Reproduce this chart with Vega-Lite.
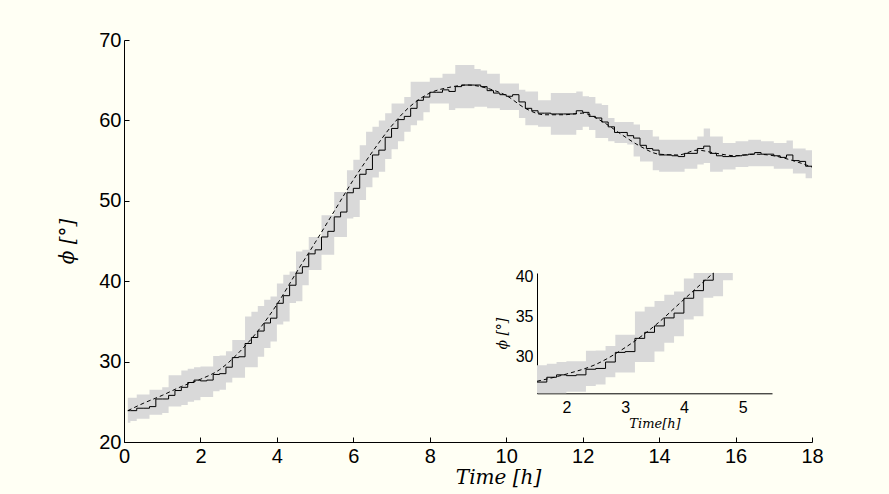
{
  "$schema": "https://vega.github.io/schema/vega-lite/v6.json",
  "width": 688,
  "height": 402,
  "autosize": {"type": "none"},
  "padding": {"left": 124, "top": 40, "right": 77, "bottom": 52},
  "background": "#fffff4",
  "config": {
    "view": {"stroke": null},
    "axis": {"grid": false, "domainColor": "#000000", "tickColor": "#000000", "labelColor": "#000000", "titleColor": "#000000", "labelFont": "Liberation Sans", "titleFont": "DejaVu Serif", "titleFontStyle": "italic", "titleFontWeight": "normal"}
  },
  "datasets": {
    "steps": [
      {"t":0.1,"v":23.9,"lo":22.4,"hi":25.5},
      {"t":0.167,"v":23.9,"lo":22.6,"hi":25.5},
      {"t":0.333,"v":24.2,"lo":22.9,"hi":25.9},
      {"t":0.5,"v":24.2,"lo":22.9,"hi":25.9},
      {"t":0.667,"v":24.4,"lo":23.4,"hi":26.5},
      {"t":0.833,"v":25.35,"lo":23.4,"hi":26.5},
      {"t":1.0,"v":25.35,"lo":23.6,"hi":26.8},
      {"t":1.167,"v":25.8,"lo":24.4,"hi":28.3},
      {"t":1.333,"v":26.4,"lo":24.4,"hi":28.3},
      {"t":1.5,"v":26.8,"lo":24.6,"hi":28.9},
      {"t":1.667,"v":27.4,"lo":25.0,"hi":29.1},
      {"t":1.833,"v":27.7,"lo":25.2,"hi":29.3},
      {"t":2.0,"v":27.6,"lo":25.6,"hi":29.4},
      {"t":2.167,"v":27.7,"lo":25.6,"hi":29.4},
      {"t":2.333,"v":28.4,"lo":26.3,"hi":30.7},
      {"t":2.5,"v":28.5,"lo":26.5,"hi":30.75},
      {"t":2.667,"v":29.3,"lo":27.4,"hi":31.3},
      {"t":2.833,"v":30.5,"lo":28.0,"hi":32.7},
      {"t":3.0,"v":30.6,"lo":28.0,"hi":32.7},
      {"t":3.167,"v":32.25,"lo":29.3,"hi":35.6},
      {"t":3.333,"v":33.0,"lo":29.3,"hi":36.2},
      {"t":3.5,"v":33.8,"lo":30.6,"hi":36.9},
      {"t":3.667,"v":34.8,"lo":31.7,"hi":37.7},
      {"t":3.833,"v":35.4,"lo":32.5,"hi":38.1},
      {"t":4.0,"v":37.25,"lo":34.6,"hi":39.7},
      {"t":4.167,"v":38.2,"lo":35.0,"hi":40.8},
      {"t":4.333,"v":39.5,"lo":37.3,"hi":41.2},
      {"t":4.5,"v":41.0,"lo":37.5,"hi":43.7},
      {"t":4.667,"v":41.8,"lo":39.5,"hi":43.9},
      {"t":4.833,"v":43.4,"lo":41.4,"hi":45.5},
      {"t":5.0,"v":43.9,"lo":41.4,"hi":45.5},
      {"t":5.167,"v":45.5,"lo":43.3,"hi":48.2},
      {"t":5.333,"v":46.2,"lo":43.3,"hi":48.2},
      {"t":5.5,"v":48.0,"lo":45.5,"hi":51.1},
      {"t":5.667,"v":48.6,"lo":45.5,"hi":51.1},
      {"t":5.833,"v":51.0,"lo":47.8,"hi":53.8},
      {"t":6.0,"v":51.55,"lo":48.0,"hi":55.1},
      {"t":6.167,"v":53.3,"lo":50.1,"hi":56.9},
      {"t":6.333,"v":53.9,"lo":51.7,"hi":58.6},
      {"t":6.5,"v":55.7,"lo":52.9,"hi":59.2},
      {"t":6.667,"v":56.3,"lo":53.6,"hi":60.0},
      {"t":6.833,"v":57.9,"lo":55.2,"hi":60.9},
      {"t":7.0,"v":59.0,"lo":56.4,"hi":62.1},
      {"t":7.167,"v":60.1,"lo":57.4,"hi":62.1},
      {"t":7.333,"v":60.5,"lo":58.6,"hi":62.9},
      {"t":7.5,"v":61.5,"lo":59.4,"hi":64.8},
      {"t":7.667,"v":62.5,"lo":60.0,"hi":64.8},
      {"t":7.833,"v":62.9,"lo":61.0,"hi":64.8},
      {"t":8.0,"v":63.5,"lo":62.1,"hi":65.3},
      {"t":8.167,"v":63.5,"lo":62.1,"hi":65.3},
      {"t":8.333,"v":63.8,"lo":62.1,"hi":65.8},
      {"t":8.5,"v":63.6,"lo":61.3,"hi":65.8},
      {"t":8.667,"v":64.2,"lo":61.5,"hi":66.9},
      {"t":8.833,"v":64.4,"lo":61.5,"hi":66.9},
      {"t":9.0,"v":64.4,"lo":61.5,"hi":66.9},
      {"t":9.167,"v":64.4,"lo":61.7,"hi":66.4},
      {"t":9.333,"v":64.2,"lo":61.7,"hi":66.2},
      {"t":9.5,"v":63.7,"lo":61.5,"hi":65.8},
      {"t":9.667,"v":63.4,"lo":61.5,"hi":65.8},
      {"t":9.833,"v":63.2,"lo":61.3,"hi":64.6},
      {"t":10.0,"v":63.0,"lo":61.3,"hi":64.6},
      {"t":10.167,"v":63.2,"lo":61.3,"hi":64.6},
      {"t":10.333,"v":62.3,"lo":60.3,"hi":63.8},
      {"t":10.5,"v":61.5,"lo":59.4,"hi":63.6},
      {"t":10.667,"v":61.2,"lo":59.4,"hi":63.6},
      {"t":10.833,"v":60.9,"lo":59.2,"hi":62.5},
      {"t":11.0,"v":60.9,"lo":59.2,"hi":62.5},
      {"t":11.167,"v":60.8,"lo":58.2,"hi":63.4},
      {"t":11.333,"v":60.8,"lo":58.2,"hi":63.4},
      {"t":11.5,"v":60.8,"lo":58.2,"hi":63.4},
      {"t":11.667,"v":60.8,"lo":58.2,"hi":63.4},
      {"t":11.833,"v":61.2,"lo":58.8,"hi":63.6},
      {"t":12.0,"v":61.0,"lo":59.2,"hi":63.0},
      {"t":12.167,"v":60.5,"lo":58.8,"hi":62.9},
      {"t":12.333,"v":60.3,"lo":57.8,"hi":62.1},
      {"t":12.5,"v":59.8,"lo":57.8,"hi":61.9},
      {"t":12.667,"v":59.2,"lo":57.4,"hi":60.3},
      {"t":12.833,"v":58.5,"lo":57.2,"hi":59.8},
      {"t":13.0,"v":58.5,"lo":57.2,"hi":59.8},
      {"t":13.167,"v":58.1,"lo":57.0,"hi":59.8},
      {"t":13.333,"v":57.8,"lo":55.5,"hi":59.5},
      {"t":13.5,"v":56.9,"lo":54.9,"hi":58.8},
      {"t":13.667,"v":56.5,"lo":54.9,"hi":58.8},
      {"t":13.833,"v":56.3,"lo":53.8,"hi":58.0},
      {"t":14.0,"v":55.7,"lo":53.6,"hi":57.6},
      {"t":14.167,"v":55.7,"lo":53.6,"hi":57.6},
      {"t":14.333,"v":55.6,"lo":53.6,"hi":57.6},
      {"t":14.5,"v":55.5,"lo":53.6,"hi":57.6},
      {"t":14.667,"v":55.9,"lo":54.0,"hi":57.6},
      {"t":14.833,"v":55.9,"lo":54.0,"hi":57.6},
      {"t":15.0,"v":56.5,"lo":54.5,"hi":58.0},
      {"t":15.167,"v":56.8,"lo":54.7,"hi":59.0},
      {"t":15.333,"v":55.9,"lo":53.6,"hi":58.0},
      {"t":15.5,"v":55.6,"lo":53.6,"hi":58.0},
      {"t":15.667,"v":55.5,"lo":53.9,"hi":57.2},
      {"t":15.833,"v":55.5,"lo":53.9,"hi":57.2},
      {"t":16.0,"v":55.6,"lo":54.2,"hi":57.4},
      {"t":16.167,"v":55.7,"lo":54.2,"hi":57.4},
      {"t":16.333,"v":55.8,"lo":54.3,"hi":57.6},
      {"t":16.5,"v":56.0,"lo":54.3,"hi":57.6},
      {"t":16.667,"v":55.8,"lo":54.3,"hi":57.4},
      {"t":16.833,"v":55.8,"lo":54.3,"hi":57.4},
      {"t":17.0,"v":55.6,"lo":54.0,"hi":57.2},
      {"t":17.167,"v":55.4,"lo":54.0,"hi":57.2},
      {"t":17.333,"v":55.7,"lo":54.0,"hi":57.5},
      {"t":17.5,"v":55.0,"lo":53.4,"hi":56.5},
      {"t":17.667,"v":54.9,"lo":53.4,"hi":56.5},
      {"t":17.833,"v":54.3,"lo":52.8,"hi":56.3},
      {"t":18.0,"v":54.3,"lo":52.8,"hi":56.3}
    ],
    "smooth": [
      {"t":0.1,"s":23.9},{"t":0.5,"s":24.8},{"t":1.0,"s":25.8},{"t":1.5,"s":26.9},
      {"t":2.0,"s":27.8},{"t":2.5,"s":29.0},{"t":3.0,"s":31.1},{"t":3.5,"s":33.8},
      {"t":4.0,"s":37.1},{"t":4.5,"s":41.0},{"t":5.0,"s":44.8},{"t":5.5,"s":48.7},
      {"t":6.0,"s":52.6},{"t":6.5,"s":56.1},{"t":7.0,"s":59.3},{"t":7.5,"s":61.8},
      {"t":8.0,"s":63.4},{"t":8.5,"s":64.1},{"t":9.0,"s":64.4},{"t":9.5,"s":64.0},
      {"t":10.0,"s":63.1},{"t":10.5,"s":61.5},{"t":11.0,"s":60.7},{"t":11.5,"s":60.7},
      {"t":12.0,"s":60.9},{"t":12.5,"s":59.9},{"t":13.0,"s":58.3},{"t":13.5,"s":56.8},
      {"t":14.0,"s":55.8},{"t":14.5,"s":55.7},{"t":15.0,"s":56.3},{"t":15.5,"s":55.9},
      {"t":16.0,"s":55.6},{"t":16.5,"s":55.8},{"t":17.0,"s":55.6},{"t":17.5,"s":55.0},
      {"t":18.0,"s":54.2}
    ]
  },
  "layer": [
    {
      "layer": [
        {
          "data": {"name": "steps"},
          "mark": {"type": "area", "interpolate": "step-after", "color": "#d9d9d9"},
          "encoding": {
            "x": {"field": "t", "type": "quantitative",
                  "scale": {"domain": [0, 18], "nice": false, "zero": false},
                  "axis": {"orient": "bottom", "values": [0,2,4,6,8,10,12,14,16,18], "format": "d", "labelFlush": false, "labelOverlap": false, "tickSize": -5, "labelPadding": 9, "labelFontSize": 20, "title": "Time [h]", "titleFontSize": 20, "titlePadding": 1, "titleX": 374}},
            "y": {"field": "lo", "type": "quantitative",
                  "scale": {"domain": [20, 70], "nice": false, "zero": false},
                  "axis": {"orient": "left", "values": [20,30,40,50,60,70], "format": "d", "labelFlush": false, "labelOverlap": false, "tickSize": -5, "labelPadding": 8, "labelFontSize": 20, "title": "ϕ [°]", "titleFontSize": 20, "titlePadding": 21}},
            "y2": {"field": "hi"}
          }
        },
        {
          "data": {"name": "steps"},
          "mark": {"type": "line", "interpolate": "step-after", "color": "#000000", "strokeWidth": 1},
          "encoding": {
            "x": {"field": "t", "type": "quantitative"},
            "y": {"field": "v", "type": "quantitative"}
          }
        },
        {
          "data": {"name": "smooth"},
          "mark": {"type": "line", "interpolate": "monotone", "color": "#000000", "strokeWidth": 1, "strokeDash": [4, 3]},
          "encoding": {
            "x": {"field": "t", "type": "quantitative"},
            "y": {"field": "s", "type": "quantitative"}
          }
        }
      ]
    },
    {
      "layer": [
        {
          "data": {"name": "steps"},
          "transform": [{"filter": "datum.t >= 1.5 && datum.t <= 4.84"}],
          "mark": {"type": "area", "interpolate": "step-after", "color": "#d9d9d9"},
          "encoding": {
            "x": {"field": "t", "type": "quantitative",
                  "scale": {"domain": [1.5, 5.5], "range": [413, 648], "nice": false, "zero": false, "clamp": true},
                  "axis": {"orient": "bottom", "offset": -48.7, "values": [2,3,4,5], "format": "d", "ticks": false, "labelFlush": false, "labelPadding": 6, "labelFontSize": 16, "title": "Time[h]", "titleFontSize": 13, "titlePadding": 2}},
            "y": {"field": "lo", "type": "quantitative",
                  "scale": {"domain": [25.4, 40.4], "range": [353.3, 233], "nice": false, "zero": false, "clamp": true},
                  "axis": {"orient": "left", "offset": -413, "values": [30,35,40], "format": "d", "ticks": false, "labelFlush": false, "labelPadding": 4, "labelFontSize": 16, "title": "ϕ [°]", "titleFontSize": 14, "titlePadding": 6}},
            "y2": {"field": "hi"}
          }
        },
        {
          "data": {"name": "steps"},
          "transform": [{"filter": "datum.t >= 1.5 && datum.t <= 4.5"}],
          "mark": {"type": "line", "interpolate": "step-after", "color": "#000000", "strokeWidth": 1},
          "encoding": {
            "x": {"field": "t", "type": "quantitative"},
            "y": {"field": "v", "type": "quantitative"}
          }
        },
        {
          "data": {"name": "smooth"},
          "transform": [{"filter": "datum.t >= 1.5 && datum.t <= 4.5"}],
          "mark": {"type": "line", "interpolate": "monotone", "color": "#000000", "strokeWidth": 1, "strokeDash": [4, 3]},
          "encoding": {
            "x": {"field": "t", "type": "quantitative"},
            "y": {"field": "s", "type": "quantitative"}
          }
        }
      ]
    }
  ],
  "resolve": {"scale": {"x": "independent", "y": "independent"}}
}
